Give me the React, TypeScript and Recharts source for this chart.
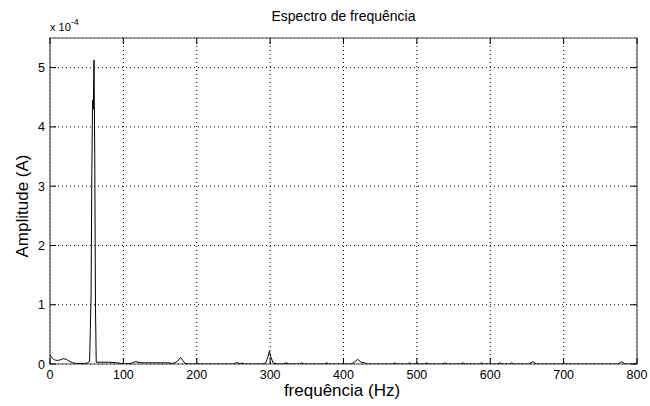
import { LineChart, Line, XAxis, YAxis, CartesianGrid, ReferenceArea } from "recharts";

// frequency (Hz) and amplitude in units of 1e-4 A
const freqs = [
  0, 3, 6, 10, 14, 18, 22, 26, 31, 36, 42, 48, 52, 54, 55, 56, 57, 58, 59, 60,
  61, 62, 63, 64, 70, 80, 92, 100, 110, 114, 117, 120, 124, 130, 140, 150, 160,
  166, 170, 174, 178, 181, 184, 190, 200, 220, 240, 250, 253, 256, 259, 262, 265,
  270, 280, 290, 294, 297, 299, 301, 304, 310, 318, 322, 326, 335, 340, 343, 346,
  360, 374, 377, 380, 390, 400, 410, 415, 419, 424, 429, 433, 440, 460, 467, 470,
  473, 480, 487, 490, 493, 500, 510, 513, 516, 530, 535, 538, 541, 550, 560, 563,
  566, 575, 585, 588, 591, 600, 610, 613, 616, 626, 629, 632, 645, 653, 658, 663,
  680, 700, 720, 740, 760, 774, 779, 784, 790, 800,
];
const amps = [
  0.15, 0.1, 0.07, 0.06, 0.07, 0.09, 0.08, 0.05, 0.02, 0.01, 0.01, 0.01, 0.02, 0.05, 0.6, 1.15, 3.2, 4.45, 4.3, 5.13,
  3.5, 0.94, 0.03, 0.03, 0.03, 0.03, 0.02, 0.0, 0.01, 0.03, 0.04, 0.03, 0.02, 0.02, 0.02, 0.02, 0.02,
  0.01, 0.02, 0.05, 0.11, 0.06, 0.01, 0.0, 0.0, 0.0, 0.0, 0.0, 0.02, 0.02, 0.0, 0.02, 0.0,
  0.0, 0.0, 0.0, 0.02, 0.12, 0.22, 0.12, 0.02, 0.0, 0.0, 0.02, 0.0, 0.0, 0.0, 0.02, 0.0,
  0.0, 0.0, 0.02, 0.0, 0.0, 0.0, 0.0, 0.03, 0.08, 0.03, 0.02, 0.0, 0.0, 0.0, 0.0, 0.02,
  0.0, 0.0, 0.0, 0.02, 0.0, 0.0, 0.0, 0.02, 0.0, 0.0, 0.0, 0.02, 0.0, 0.0, 0.0, 0.02,
  0.0, 0.0, 0.0, 0.02, 0.0, 0.0, 0.0, 0.02, 0.0, 0.0, 0.02, 0.0, 0.0, 0.0, 0.04, 0.0,
  0.0, 0.0, 0.0, 0.0, 0.0, 0.0, 0.04, 0.0, 0.0, 0.0,
];
const xTicks = [0, 100, 200, 300, 400, 500, 600, 700, 800];
const yTicks = [0, 1, 2, 3, 4, 5];

const data = freqs.map((f, i) => ({ f, a: amps[i] }));

const W = 650, H = 406;
const PL = 50, PR = 637, PT = 38, PB = 364;
const FONT = "'Liberation Sans', Arial, Helvetica, sans-serif";
const TICK = 6;

function XTick(props: any) {
  const c = props.payload.coordinate;
  return (
    <g>
      <line x1={c} x2={c} y1={PB} y2={PB - TICK} stroke="#000" />
      <line x1={c} x2={c} y1={PT} y2={PT + TICK} stroke="#000" />
      <text x={c} y={PB + 15} textAnchor="middle" fontSize={12.5} fontFamily={FONT} fill="#000">
        {props.payload.value}
      </text>
    </g>
  );
}

function YTick(props: any) {
  const c = props.payload.coordinate;
  return (
    <g>
      <line x1={PL} x2={PL + TICK} y1={c} y2={c} stroke="#000" />
      <line x1={PR} x2={PR - TICK} y1={c} y2={c} stroke="#000" />
      <text x={PL - 5} y={c + 4.5} textAnchor="end" fontSize={12.5} fontFamily={FONT} fill="#000">
        {props.payload.value}
      </text>
    </g>
  );
}

export default function App() {
  return (
    <div style={{ position: "absolute", left: 0, top: 0, width: W, height: H, background: "#fff" }}>
      <LineChart width={W} height={H} data={data} margin={{ top: PT, right: W - PR, bottom: 0, left: 0 }}>
        <CartesianGrid stroke="#000" strokeDasharray="1 3" />
        <XAxis
          dataKey="f"
          type="number"
          domain={[0, 800]}
          ticks={xTicks}
          height={H - PB}
          tick={<XTick />}
          tickLine={false}
          axisLine={false}
          allowDataOverflow
        />
        <YAxis
          type="number"
          domain={[0, 5.5]}
          ticks={yTicks}
          width={PL}
          tick={<YTick />}
          tickLine={false}
          axisLine={false}
          allowDataOverflow
        />
        <ReferenceArea x1={0} x2={800} y1={0} y2={5.5} fill="none" stroke="#555" strokeWidth={1.2} ifOverflow="visible" />
        <Line dataKey="a" type="linear" stroke="#000" strokeWidth={1} dot={false} isAnimationActive={false} />
      </LineChart>
      <svg width={W} height={H} style={{ position: "absolute", left: 0, top: 0, pointerEvents: "none" }}>
        <text x={(PL + PR) / 2} y={21} textAnchor="middle" fontSize={14} fontFamily={FONT} fill="#000">
          Espectro de frequência
        </text>
        <text x={50} y={31} fontSize={11} fontFamily={FONT} fill="#000">
          x 10
          <tspan fontSize={9} dy={-6}>-4</tspan>
        </text>
        <text
          x={28}
          y={206}
          transform="rotate(-90 28 206)"
          textAnchor="middle"
          fontSize={17}
          fontFamily={FONT}
          fill="#000"
        >
          Amplitude (A)
        </text>
        <text x={342} y={396} textAnchor="middle" fontSize={17} fontFamily={FONT} fill="#000">
          frequência (Hz)
        </text>
      </svg>
    </div>
  );
}
